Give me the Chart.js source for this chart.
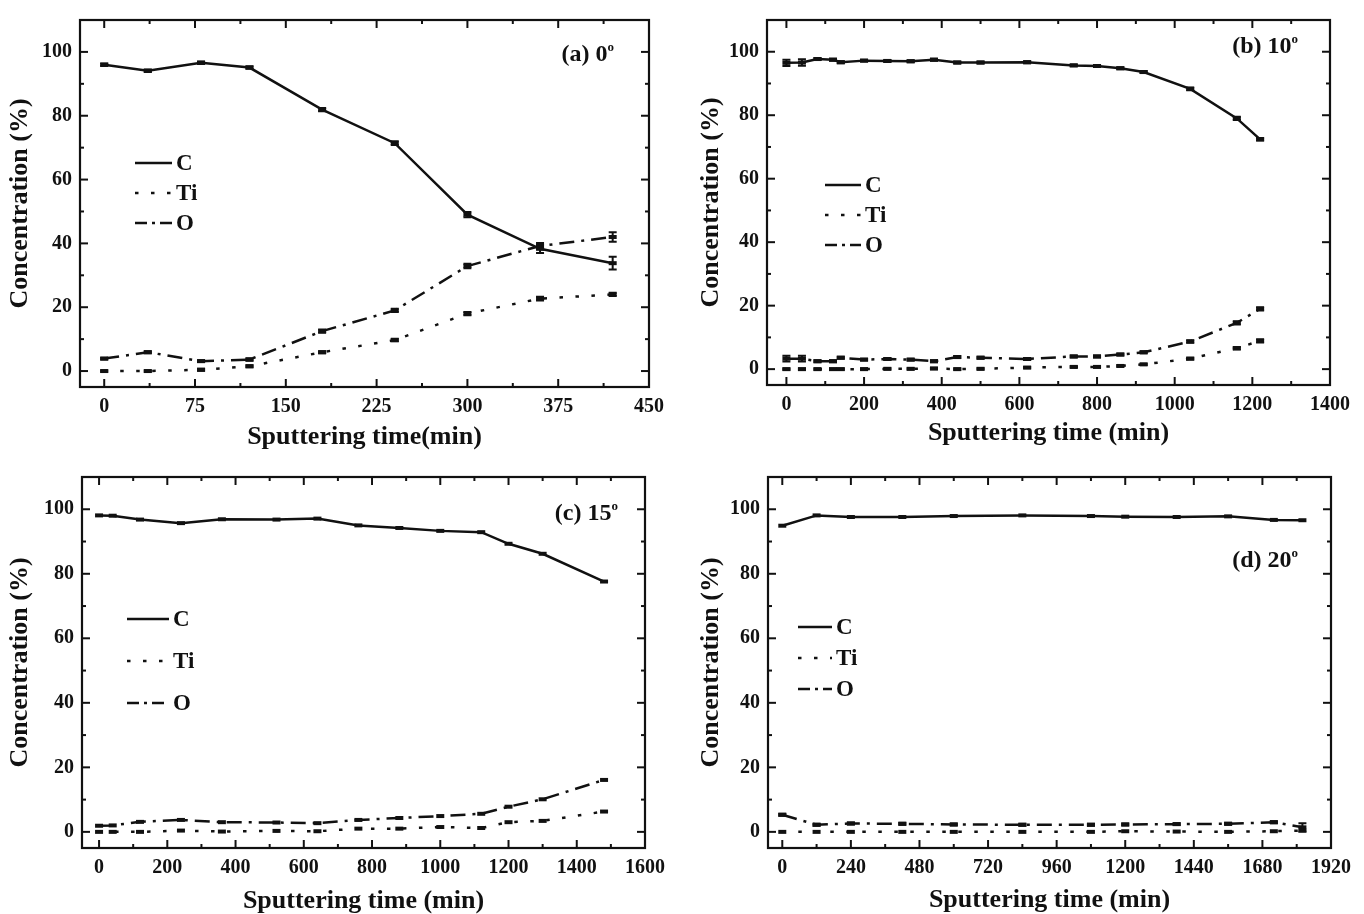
<!DOCTYPE html>
<html>
<head>
<meta charset="utf-8">
<title>Concentration vs sputtering time</title>
<script src="https://cdn.jsdelivr.net/npm/chart.js@4.4.0/dist/chart.umd.min.js"></script>
<style>
  body { margin: 0; background: #fff; }
  #wrap { position: relative; width: 1364px; height: 914px; }
  #wrap canvas { position: absolute; }
</style>
</head>
<body>
<div id="wrap">
  <canvas id="chartA" width="682" height="457" style="left:0;top:0"></canvas>
  <canvas id="chartB" width="682" height="457" style="left:682px;top:0"></canvas>
  <canvas id="chartC" width="682" height="457" style="left:0;top:457px"></canvas>
  <canvas id="chartD" width="682" height="457" style="left:682px;top:457px"></canvas>
</div>
<script>
// (a) 0°
const timeA = [0, 36, 80, 120, 180, 240, 300, 360, 420];
const carbonA = [96.0, 94.1, 96.6, 95.1, 81.9, 71.4, 49.0, 38.3, 33.8];
const titaniumA = [0.0, 0.0, 0.4, 1.5, 5.9, 9.7, 18.0, 22.7, 24.0];
const oxygenA = [3.9, 5.9, 3.1, 3.6, 12.5, 19.0, 32.9, 39.2, 42.0];
const carbonErrA = [0.4, 0.4, 0.4, 0.4, 0.5, 0.6, 0.8, 1.3, 2.0];
const titaniumErrA = [0.2, 0.2, 0.3, 0.3, 0.3, 0.4, 0.5, 0.6, 0.5];
const oxygenErrA = [0.3, 0.3, 0.3, 0.4, 0.5, 0.5, 0.7, 0.9, 1.5];
const xTicksA = [0, 75, 150, 225, 300, 375, 450];

// (b) 10°
const timeB = [0, 40, 80, 120, 140, 200, 260, 320, 380, 440, 500, 620, 740, 800, 860, 920, 1040, 1160, 1220];
const carbonB = [96.5, 96.6, 97.7, 97.5, 96.7, 97.2, 97.1, 97.0, 97.5, 96.6, 96.6, 96.7, 95.7, 95.5, 94.8, 93.6, 88.3, 79.0, 72.4];
const titaniumB = [0, 0, 0, 0, 0, 0, 0.1, 0.1, 0.2, 0, 0.1, 0.5, 0.7, 0.7, 1.0, 1.5, 3.3, 6.6, 8.9];
const oxygenB = [3.3, 3.3, 2.5, 2.5, 3.6, 3.0, 3.2, 3.0, 2.5, 3.8, 3.6, 3.2, 4.0, 4.0, 4.6, 5.3, 8.7, 14.6, 19.0];
const carbonErrB = [1.0, 1.0, 0.3, 0.3, 0.3, 0.3, 0.3, 0.3, 0.3, 0.3, 0.3, 0.3, 0.3, 0.3, 0.3, 0.3, 0.4, 0.5, 0.4];
const titaniumErrB = [0.2, 0.2, 0.2, 0.2, 0.2, 0.2, 0.2, 0.2, 0.2, 0.2, 0.2, 0.2, 0.2, 0.2, 0.2, 0.2, 0.3, 0.4, 0.5];
const oxygenErrB = [0.9, 0.9, 0.3, 0.3, 0.3, 0.3, 0.3, 0.3, 0.3, 0.3, 0.3, 0.3, 0.3, 0.3, 0.3, 0.3, 0.4, 0.5, 0.5];
const xTicksB = [0, 200, 400, 600, 800, 1000, 1200, 1400];

// (c) 15°
const timeC = [0, 40, 120, 240, 360, 520, 640, 760, 880, 1000, 1120, 1200, 1300, 1480];
const carbonC = [98.1, 98.0, 96.8, 95.7, 96.9, 96.8, 97.1, 95.0, 94.2, 93.3, 92.9, 89.3, 86.2, 77.6];
const titaniumC = [0, 0, 0, 0.4, 0.1, 0.3, 0.2, 1.0, 1.0, 1.5, 1.2, 3.0, 3.4, 6.3];
const oxygenC = [1.9, 2.0, 3.1, 3.7, 3.0, 2.9, 2.7, 3.7, 4.3, 4.9, 5.6, 7.8, 10.1, 16.1];
const xTicksC = [0, 200, 400, 600, 800, 1000, 1200, 1400, 1600];

// (d) 20°
const timeD = [0, 120, 240, 420, 600, 840, 1080, 1200, 1380, 1560, 1720, 1820];
const carbonD = [94.9, 98.1, 97.6, 97.6, 97.9, 98.1, 97.9, 97.7, 97.6, 97.8, 96.7, 96.6];
const titaniumD = [0, 0, 0, 0, 0, 0, 0, 0.2, 0.1, 0, 0.2, 0.4];
const oxygenD = [5.3, 2.2, 2.6, 2.5, 2.3, 2.2, 2.2, 2.3, 2.4, 2.5, 3.0, 1.4];
const oxygenErrD = [0.3, 0.3, 0.3, 0.3, 0.3, 0.3, 0.3, 0.3, 0.3, 0.3, 0.3, 1.3];
const xTicksD = [0, 240, 480, 720, 960, 1200, 1440, 1680, 1920];

const yTicks = [0, 20, 40, 60, 80, 100];

const FONT = '"Liberation Serif", "Times New Roman", serif';
const INK = '#111';

// 刻度向内画，四边都画
const frameTicks = {
  id: 'frameTicks',
  afterDraw(chart) {
    const { ctx, chartArea: a, scales: { x, y } } = chart;
    ctx.save();
    ctx.strokeStyle = INK;
    const seg = (x1, y1, x2, y2) => { ctx.beginPath(); ctx.moveTo(x1, y1); ctx.lineTo(x2, y2); ctx.stroke(); };
    ctx.lineWidth = 2;
    x.ticks.forEach((t, i) => {
      const px = x.getPixelForValue(t.value);
      seg(px, a.bottom, px, a.bottom - 8);
      seg(px, a.top, px, a.top + 8);
      const next = x.ticks[i + 1];
      if (next) {
        const m = x.getPixelForValue((t.value + next.value) / 2);
        seg(m, a.bottom, m, a.bottom - 4);
        seg(m, a.top, m, a.top + 4);
      }
    });
    y.ticks.forEach((t, i) => {
      const py = y.getPixelForValue(t.value);
      seg(a.left, py, a.left + 8, py);
      seg(a.right, py, a.right - 8, py);
      const next = y.ticks[i + 1];
      if (next) {
        const m = y.getPixelForValue((t.value + next.value) / 2);
        seg(a.left, m, a.left + 4, m);
        seg(a.right, m, a.right - 4, m);
      }
    });
    ctx.lineWidth = 2.2;
    ctx.strokeRect(a.left, a.top, a.right - a.left, a.bottom - a.top);
    ctx.restore();
  }
};

// 误差棒
const errorBars = {
  id: 'errorBars',
  afterDatasetsDraw(chart) {
    const { ctx, scales: { y } } = chart;
    ctx.save();
    ctx.strokeStyle = INK;
    ctx.lineWidth = 2;
    chart.data.datasets.forEach((ds, i) => {
      if (!ds.errors) return;
      chart.getDatasetMeta(i).data.forEach((pt, j) => {
        const e = ds.errors[j];
        if (!e) return;
        const v = ds.data[j].y;
        const top = y.getPixelForValue(v + e);
        const bot = y.getPixelForValue(v - e);
        ctx.beginPath();
        ctx.moveTo(pt.x, top); ctx.lineTo(pt.x, bot);
        ctx.moveTo(pt.x - 4, top); ctx.lineTo(pt.x + 4, top);
        ctx.moveTo(pt.x - 4, bot); ctx.lineTo(pt.x + 4, bot);
        ctx.stroke();
      });
    });
    ctx.restore();
  }
};

// 图内图例
const insideLegend = {
  id: 'insideLegend',
  afterDraw(chart, args, opts) {
    const ctx = chart.ctx;
    ctx.save();
    chart.data.datasets.forEach((ds, i) => {
      const y = opts.y + i * opts.gap;
      ctx.strokeStyle = INK;
      ctx.lineWidth = ds.borderWidth;
      ctx.setLineDash(ds.legendDash || []);
      ctx.beginPath();
      ctx.moveTo(opts.x, y);
      ctx.lineTo(opts.x + opts.len, y);
      ctx.stroke();
      ctx.setLineDash([]);
      ctx.fillStyle = INK;
      ctx.font = 'bold 23px ' + FONT;
      ctx.textBaseline = 'middle';
      ctx.fillText(ds.label, opts.x + opts.len + 4, y + 1);
    });
    ctx.restore();
  }
};

// 面板标记 (a) 0° 等
const panelTag = {
  id: 'panelTag',
  afterDraw(chart, args, opts) {
    const ctx = chart.ctx;
    ctx.save();
    ctx.fillStyle = INK;
    ctx.textAlign = 'right';
    ctx.textBaseline = 'alphabetic';
    ctx.font = 'bold 13px ' + FONT;
    const supW = ctx.measureText('o').width;
    ctx.fillText('o', opts.right, opts.baseline - 10);
    ctx.font = 'bold 24px ' + FONT;
    ctx.fillText(opts.text, opts.right - supW, opts.baseline);
    ctx.restore();
  }
};

function series(label, xs, ys, errs, dash, legendDash, width) {
  return {
    label: label,
    data: xs.map((t, i) => ({ x: t, y: ys[i] })),
    errors: errs,
    showLine: true,
    borderColor: INK,
    backgroundColor: INK,
    borderWidth: width,
    borderDash: dash,
    legendDash: legendDash,
    tension: 0,
    pointStyle: 'line',
    pointRadius: 4,
    pointBorderWidth: 4,
    pointHoverRadius: 0
  };
}

function makeChart(id, p) {
  return new Chart(document.getElementById(id), {
    type: 'scatter',
    data: {
      datasets: [
        series('C', p.time, p.carbon, p.carbonErr, [], [], 2.5),
        series('Ti', p.time, p.titanium, p.titaniumErr, [3.5, 12.5], [3.5, 12.5], 2.5),
        series('O', p.time, p.oxygen, p.oxygenErr, [15, 7, 3, 7], [12, 5, 3, 5], 2.5)
      ]
    },
    options: {
      responsive: false,
      animation: false,
      devicePixelRatio: 1,
      events: [],
      layout: { padding: { left: 0, top: p.top, right: p.right, bottom: 0 } },
      scales: {
        x: {
          type: 'linear',
          min: p.xMin,
          max: p.xMax,
          afterBuildTicks: s => { s.ticks = p.xTicks.map(v => ({ value: v })); },
          afterFit: s => { s.height = p.xHeight; },
          grid: { display: false, drawTicks: false },
          border: { display: false },
          ticks: {
            padding: 8,
            color: INK,
            maxRotation: 0,
            callback: v => String(v),
            font: { family: FONT, size: 20, weight: 'bold' }
          },
          title: {
            display: true,
            text: p.xTitle,
            color: INK,
            font: { family: FONT, size: 26, weight: 'bold', lineHeight: 1 },
            padding: { top: 0, bottom: p.xTitlePad }
          }
        },
        y: {
          min: -5,
          max: 110,
          afterBuildTicks: s => { s.ticks = yTicks.map(v => ({ value: v })); },
          afterFit: s => { s.width = p.yWidth; },
          grid: { display: false, drawTicks: false },
          border: { display: false },
          ticks: {
            padding: 8,
            color: INK,
            callback: v => String(v),
            font: { family: FONT, size: 20, weight: 'bold' }
          },
          title: {
            display: true,
            text: 'Concentration (%)',
            color: INK,
            font: { family: FONT, size: 26, weight: 'bold', lineHeight: 1 },
            padding: { top: p.yTitlePad, bottom: 0 }
          }
        }
      },
      plugins: {
        legend: { display: false },
        tooltip: { enabled: false },
        insideLegend: p.legend,
        panelTag: p.tag
      }
    },
    plugins: [errorBars, frameTicks, insideLegend, panelTag]
  });
}

makeChart('chartA', {
  time: timeA, carbon: carbonA, titanium: titaniumA, oxygen: oxygenA,
  carbonErr: carbonErrA, titaniumErr: titaniumErrA, oxygenErr: oxygenErrA,
  xMin: -20, xMax: 450, xTicks: xTicksA, xTitle: 'Sputtering time(min)',
  top: 11, right: 33, xHeight: 70, yWidth: 80, xTitlePad: 7, yTitlePad: 7,
  legend: { x: 135, y: 163, gap: 30, len: 37 },
  tag: { text: '(a) 0', right: 614, baseline: 61 }
});

makeChart('chartB', {
  time: timeB, carbon: carbonB, titanium: titaniumB, oxygen: oxygenB,
  carbonErr: carbonErrB, titaniumErr: titaniumErrB, oxygenErr: oxygenErrB,
  xMin: -50, xMax: 1400, xTicks: xTicksB, xTitle: 'Sputtering time (min)',
  top: 11, right: 34, xHeight: 72, yWidth: 85, xTitlePad: 11, yTitlePad: 16,
  legend: { x: 143, y: 185, gap: 30, len: 36 },
  tag: { text: '(b) 10', right: 616, baseline: 53 }
});

makeChart('chartC', {
  time: timeC, carbon: carbonC, titanium: titaniumC, oxygen: oxygenC,
  carbonErr: null, titaniumErr: null, oxygenErr: null,
  xMin: -50, xMax: 1600, xTicks: xTicksC, xTitle: 'Sputtering time (min)',
  top: 19, right: 37, xHeight: 66, yWidth: 82, xTitlePad: 0, yTitlePad: 7,
  legend: { x: 127, y: 162, gap: 42, len: 42 },
  tag: { text: '(c) 15', right: 618, baseline: 63 }
});

makeChart('chartD', {
  time: timeD, carbon: carbonD, titanium: titaniumD, oxygen: oxygenD,
  carbonErr: null, titaniumErr: null, oxygenErr: oxygenErrD,
  xMin: -50, xMax: 1920, xTicks: xTicksD, xTitle: 'Sputtering time (min)',
  top: 18, right: 33, xHeight: 66, yWidth: 86, xTitlePad: 1, yTitlePad: 16,
  legend: { x: 116, y: 170, gap: 31, len: 34 },
  tag: { text: '(d) 20', right: 616, baseline: 110 }
});
</script>
</body>
</html>
